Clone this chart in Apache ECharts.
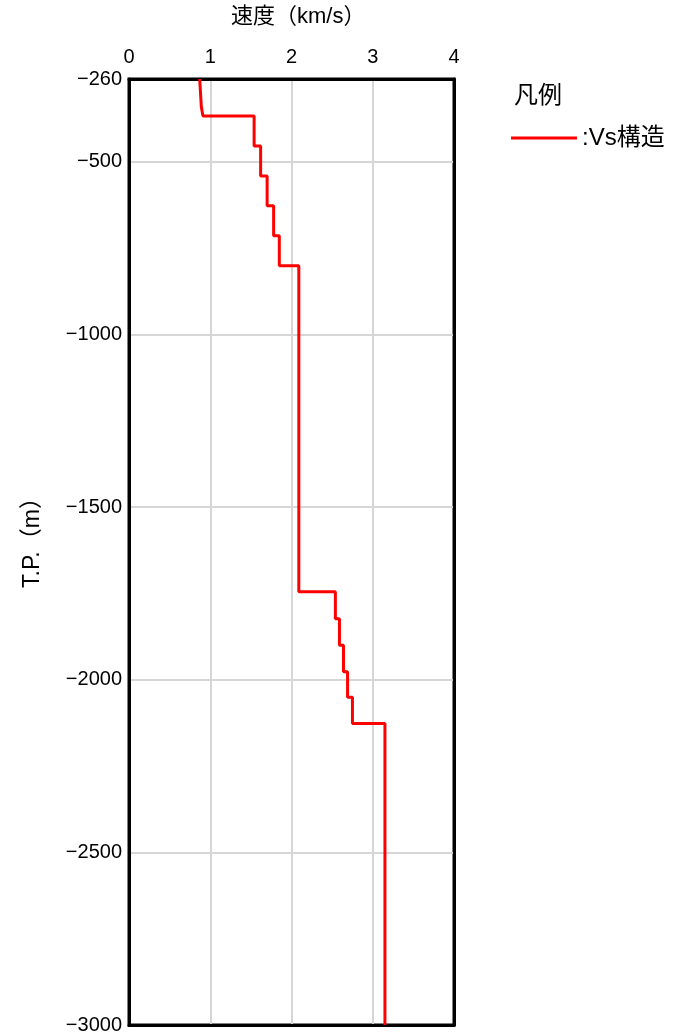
<!DOCTYPE html>
<html>
<head>
<meta charset="utf-8">
<script src="https://cdn.jsdelivr.net/npm/echarts@6/dist/echarts.min.js"></script>
<style>
  html, body { margin: 0; padding: 0; background: #fff; }
  #chart { width: 685px; height: 1035px; }
</style>
</head>
<body>
<div id="chart"></div>
<script>
// Near-surface gradient part of the profile (velocity km/s, elevation T.P. m)
const surfaceVs = [0.87, 0.89, 0.91];
const surfaceTP = [-260, -340, -367];

// Layered part: each layer has a constant Vs between its top and bottom elevation
const layerVs     = [1.54, 1.62, 1.70, 1.78, 1.85, 2.09, 2.54, 2.59, 2.64, 2.69, 2.75, 3.15];
const layerTop    = [-367, -454, -541, -627, -714, -801, -1745, -1823, -1900, -1977, -2051, -2127];
const layerBottom = [-454, -541, -627, -714, -801, -1745, -1823, -1900, -1977, -2051, -2127, -3000];

const seriesName = ':Vs構造';
const legendTitle = '凡例';
const xName = '速度（km/s）';
const yName = 'T.P.（m）';

// Build the step polyline from the surface gradient and the layer table
const profile = surfaceVs.map((v, i) => [v, surfaceTP[i]]);
layerVs.forEach((v, i) => {
  profile.push([v, layerTop[i]]);
  profile.push([v, layerBottom[i]]);
});

const FONT = '"Liberation Sans", "Noto Sans CJK JP", sans-serif';
const chart = echarts.init(document.getElementById('chart'), null, { renderer: 'canvas' });

const gridLine = { show: true, showMinLine: false, showMaxLine: false, lineStyle: { color: '#d6d6d6', width: 2 } };
const frameLine = { show: true, onZero: false, lineStyle: { color: '#000', width: 3 } };

chart.setOption({
  animation: false,
  backgroundColor: '#fff',
  textStyle: { fontFamily: FONT, color: '#000' },
  grid: {
    left: 129, right: 231, top: 79, bottom: 9,
    show: true, borderColor: '#000', borderWidth: 3, backgroundColor: 'transparent'
  },
  xAxis: [{
    type: 'value', position: 'top', min: 0, max: 4, interval: 1,
    axisLine: frameLine,
    axisTick: { show: false },
    axisLabel: { color: '#000', fontSize: 20, fontFamily: FONT, margin: 12 },
    splitLine: gridLine
  }, {
    // bottom edge of the frame
    type: 'value', position: 'bottom', min: 0, max: 4, interval: 1,
    axisLine: frameLine, axisTick: { show: false }, axisLabel: { show: false }, splitLine: { show: false }
  }],
  yAxis: [{
    type: 'value', min: -3000, max: -260, interval: 500,
    axisLine: frameLine,
    axisTick: { show: false },
    axisLabel: {
      color: '#000', fontSize: 20, fontFamily: FONT, margin: 7,
      formatter: v => String(v).replace('-', '\u2212')
    },
    splitLine: gridLine
  }, {
    // right edge of the frame
    type: 'value', position: 'right', min: -3000, max: -260, interval: 500,
    axisLine: frameLine, axisTick: { show: false }, axisLabel: { show: false }, splitLine: { show: false }
  }],
  legend: {
    left: 506, top: 121,
    icon: 'rect', itemWidth: 66, itemHeight: 3,
    textStyle: { fontSize: 24, fontFamily: FONT, color: '#000' },
    data: [seriesName]
  },
  graphic: [
    {
      type: 'text', left: 231, top: 6,
      style: { text: xName, font: '22px ' + FONT, fill: '#000' }
    },
    {
      type: 'text', x: 33, y: 537, rotation: Math.PI / 2,
      style: { text: yName, font: '23px ' + FONT, fill: '#000', textAlign: 'center', textVerticalAlign: 'middle' }
    },
    {
      type: 'text', left: 514, top: 84,
      style: { text: legendTitle, font: '24px ' + FONT, fill: '#000' }
    }
  ],
  series: [{
    name: seriesName,
    type: 'line',
    data: profile,
    showSymbol: false,
    symbol: 'none',
    lineStyle: { color: '#ff0000', width: 3 },
    itemStyle: { color: '#ff0000' }
  }]
});
</script>
</body>
</html>
